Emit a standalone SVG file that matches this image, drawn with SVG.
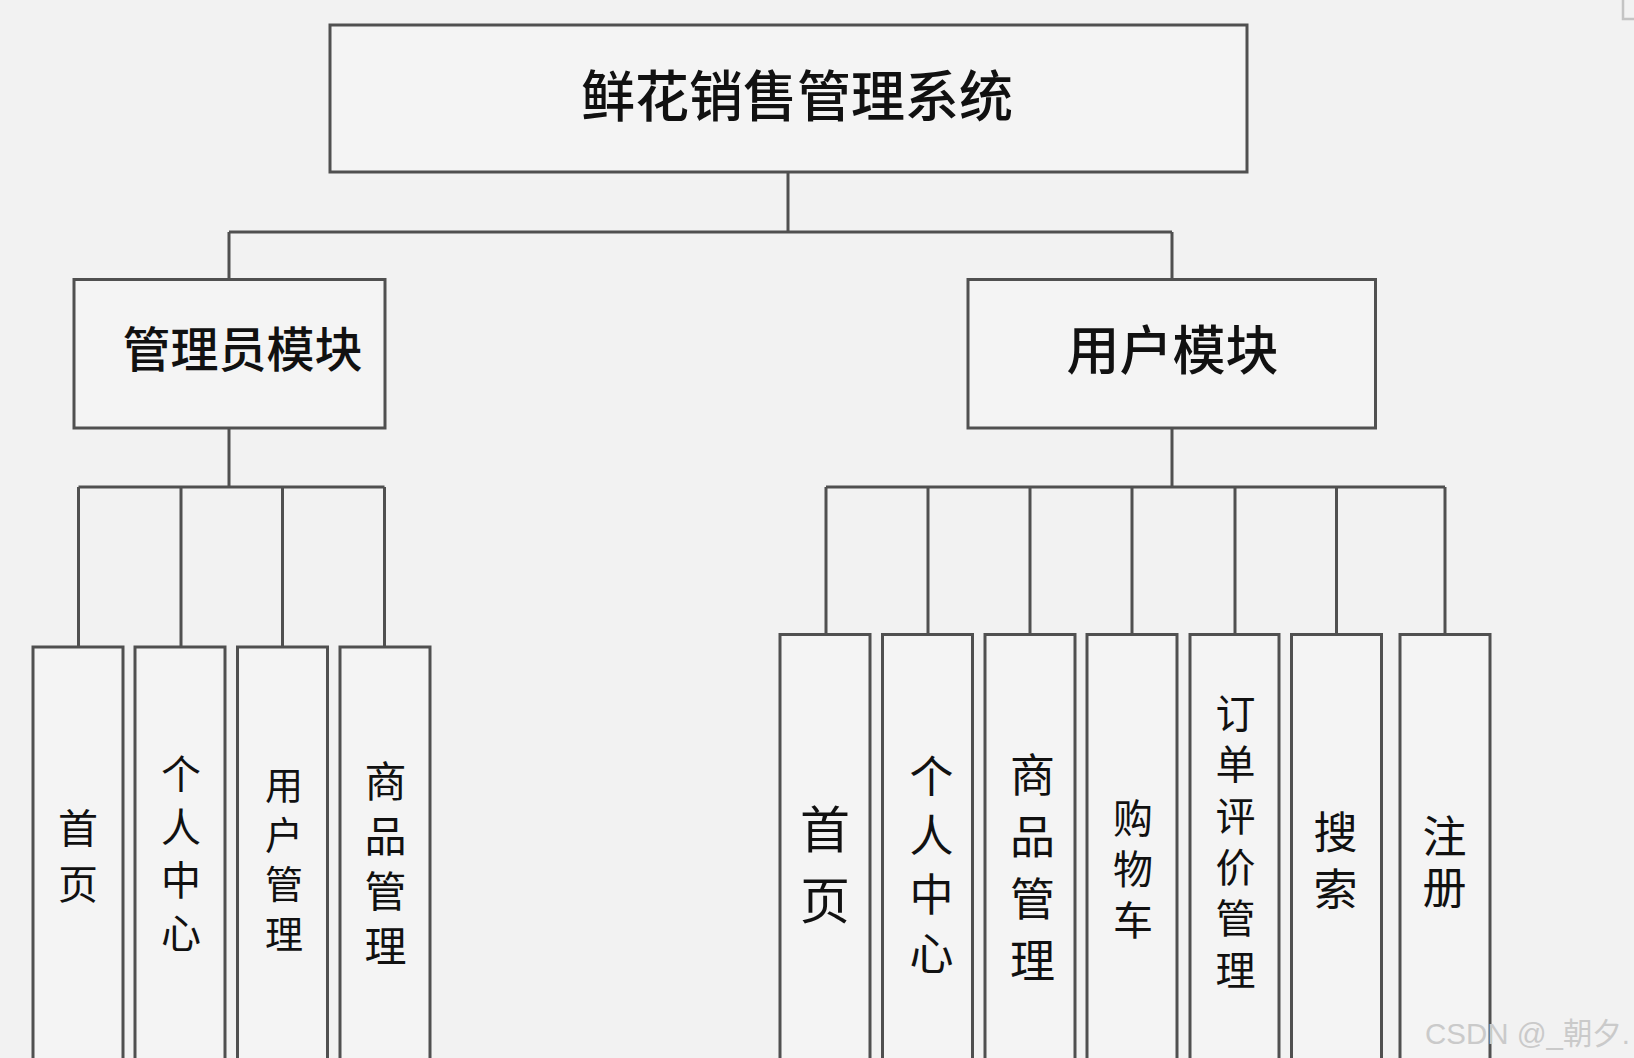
<svg xmlns="http://www.w3.org/2000/svg" width="1634" height="1058" viewBox="0 0 1634 1058">
<style>
.box{fill:#f4f4f4;stroke:#505050;stroke-width:3}
.con{fill:none;stroke:#505050;stroke-width:3}
.t{font-family:"Noto Sans CJK SC","Noto Sans CJK JP",sans-serif;fill:#111;text-anchor:middle}
.v{font-family:"Noto Sans CJK SC","Noto Sans CJK JP",sans-serif;fill:#111;writing-mode:vertical-rl;text-orientation:upright}
.wm{font-family:"Liberation Sans","Noto Sans CJK SC",sans-serif;fill:#cacaca;font-size:30px}
</style>
<rect width="1634" height="1058" fill="#f2f2f2"/>
<path d="M1623 0V19H1634" fill="none" stroke="#c4c4c4" stroke-width="2.5"/>
<g id="connectors" class="con">
<path d="M788 172V232M229 232H1172M229 232V279.5M1172 232V279.5"/>
<path d="M229 428V487M78.5 487H384.5M78.5 487V647M181 487V647M282.5 487V647M384.5 487V647"/>
<path d="M1172 428V487M826 487H1445M826 487V634.5M928 487V634.5M1030 487V634.5M1132 487V634.5M1235 487V634.5M1336.5 487V634.5M1445 487V634.5"/>
</g>
<g id="root"><rect class="box" x="330" y="25" width="917" height="147"/>
<text class="t" x="797" y="116" font-size="55" font-weight="500" textLength="432" lengthAdjust="spacingAndGlyphs">鲜花销售管理系统</text></g>
<g id="admin"><rect class="box" x="74" y="279.5" width="311" height="148.5"/>
<text class="t" x="242.5" y="367" font-size="48" font-weight="500">管理员模块</text></g>
<g id="user"><rect class="box" x="968" y="279.5" width="407.5" height="148.5"/>
<text class="t" x="1172.5" y="370" font-size="53" font-weight="500">用户模块</text></g>
<g id="a1"><rect class="box" x="33" y="647" width="90" height="430"/>
<text class="v" x="78" y="807.6" font-size="40" letter-spacing="16.7">首页</text></g>
<g id="a2"><rect class="box" x="135" y="647" width="90" height="430"/>
<text class="v" x="181" y="754.3" font-size="40" letter-spacing="12.7">个人中心</text></g>
<g id="a3"><rect class="box" x="237.5" y="647" width="90" height="430"/>
<text class="v" x="284" y="765.7" font-size="38" letter-spacing="11.5">用户管理</text></g>
<g id="a4"><rect class="box" x="340" y="647" width="90" height="430"/>
<text class="v" x="385.5" y="760.5" font-size="42" letter-spacing="13">商品管理</text></g>
<g id="u1"><rect class="box" x="780" y="634.5" width="90" height="440"/>
<text class="v" x="825" y="803.7" font-size="50" letter-spacing="21">首页</text></g>
<g id="u2"><rect class="box" x="882.5" y="634.5" width="90" height="440"/>
<text class="v" x="931.5" y="754" font-size="44" letter-spacing="15">个人中心</text></g>
<g id="u3"><rect class="box" x="985" y="634.5" width="90" height="440"/>
<text class="v" x="1032.5" y="752.3" font-size="45" letter-spacing="17">商品管理</text></g>
<g id="u4"><rect class="box" x="1087" y="634.5" width="90" height="440"/>
<text class="v" x="1133" y="797.6" font-size="40" letter-spacing="11">购物车</text></g>
<g id="u5"><rect class="box" x="1190" y="634.5" width="89" height="440"/>
<text class="v" x="1235.5" y="692.6" font-size="40" letter-spacing="11.4">订单评价管理</text></g>
<g id="u6"><rect class="box" x="1291.5" y="634.5" width="90" height="440"/>
<text class="v" x="1335.5" y="810.4" font-size="44" letter-spacing="13">搜索</text></g>
<g id="u7"><rect class="box" x="1400" y="634.5" width="90" height="440"/>
<text class="v" x="1444.5" y="814" font-size="44" letter-spacing="7">注册</text></g>
<text class="wm" x="1425" y="1044" textLength="205" lengthAdjust="spacingAndGlyphs">CSDN @_朝夕.</text>
</svg>
